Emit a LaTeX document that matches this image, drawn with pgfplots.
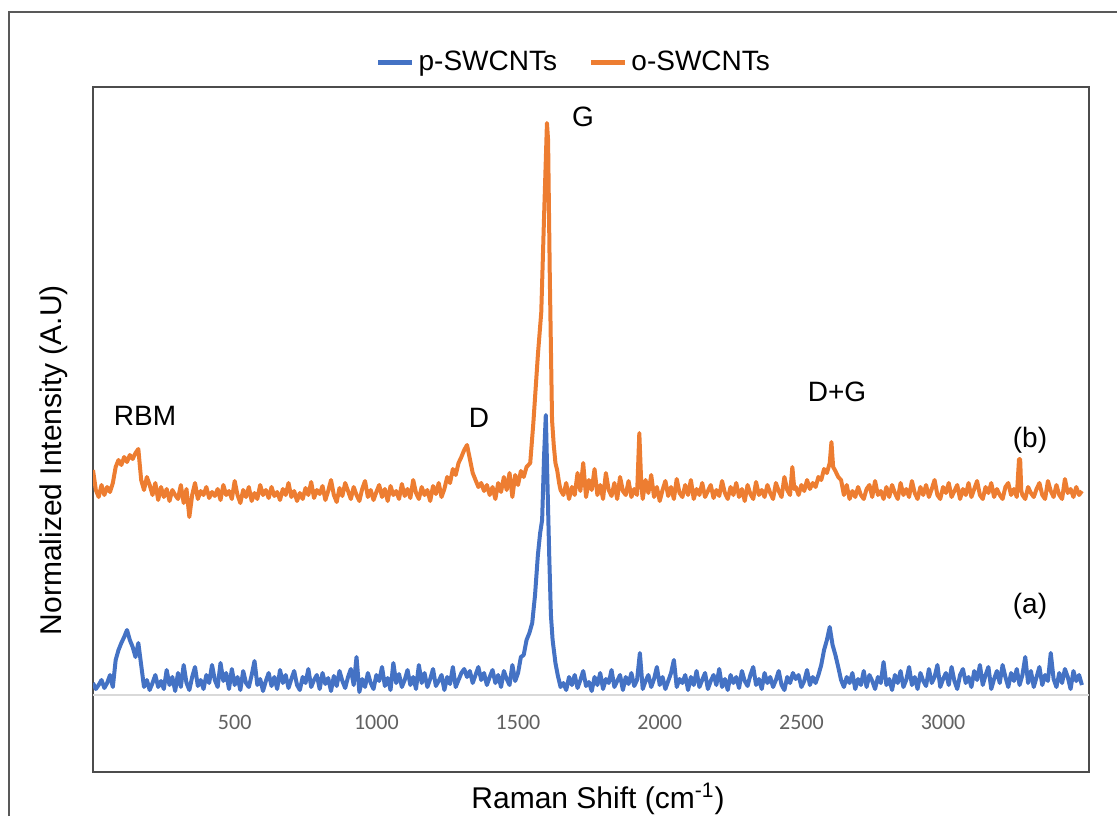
\documentclass[border=0pt]{standalone}
\usepackage{fontspec}
\setmainfont{Liberation Sans}
\newfontfamily\carlito{Carlito}
\usepackage{pgfplots}
\pgfplotsset{compat=1.18}
\definecolor{xblue}{HTML}{4472C4}
\definecolor{xorange}{HTML}{ED7D31}
\begin{document}
\begin{tikzpicture}
\path[use as bounding box] (0,0) rectangle (558.5pt,408pt);
\draw[line width=1pt, black!65] (4.5pt,0pt) -- (4.5pt,402pt) -- (558.5pt,402pt);
\begin{axis}[
  at={(46.5pt,22pt)}, anchor=south west,
  scale only axis, width=498pt, height=342.5pt,
  xmin=0, xmax=3515, ymin=-77, ymax=608,
  axis line style={line width=1pt, black!70},
  ytick=\empty,
  xtick={500,1000,...,3000},
  major tick length=0pt,
  /pgf/number format/1000 sep={},
  /pgf/number format/assume math mode=true,
  xticklabel style={anchor=center, yshift=25pt, font=\carlito\fontsize{11}{13}\selectfont, text=black!62},
  legend style={at={(0.484,1.036)}, anchor=center, draw=none, fill=none,
    legend columns=2, font=\fontsize{14}{17}\selectfont,
    /tikz/every even column/.append style={column sep=14pt}},
  legend image code/.code={\draw[#1, line width=2.2pt] (0pt,0pt) -- (17pt,0pt);},
]
\addplot[black!15, line width=0.8pt, forget plot] coordinates {(0,0) (3515,0)};
\addplot[xblue, line width=2pt, line join=round] coordinates {
(0,12)(10,6)(20,10)(30,15)(40,7)(50,12)(60,20)(70,8)(80,35)(90,45)
(100,52)(110,58)(120,65)(130,55)(140,48)(150,38)(160,52)(170,30)(180,8)(190,15)
(200,5)(210,12)(220,20)(230,8)(240,14)(250,6)(260,25)(270,10)(280,18)(290,4)
(300,22)(310,8)(320,30)(330,12)(340,5)(350,18)(360,28)(370,9)(380,15)(390,6)
(400,20)(410,12)(420,30)(430,15)(440,8)(450,32)(460,14)(470,22)(480,6)(490,26)
(500,10)(510,18)(520,5)(530,24)(540,12)(550,8)(560,20)(570,34)(580,10)(590,16)
(600,4)(610,14)(620,22)(630,9)(640,18)(650,6)(660,25)(670,12)(680,20)(690,7)
(700,16)(710,24)(720,10)(730,5)(740,18)(750,12)(760,26)(770,8)(780,15)(790,20)
(800,6)(810,22)(820,11)(830,17)(840,4)(850,19)(860,9)(870,24)(880,14)(890,7)
(900,18)(910,26)(920,10)(930,38)(940,3)(950,16)(960,8)(970,22)(980,12)(990,6)
(1000,20)(1010,14)(1020,28)(1030,9)(1040,17)(1050,5)(1060,32)(1070,12)(1080,21)(1090,8)
(1100,15)(1110,25)(1120,10)(1130,18)(1140,6)(1150,30)(1160,12)(1170,22)(1180,8)(1190,16)
(1200,26)(1210,9)(1220,14)(1230,20)(1240,5)(1250,18)(1260,11)(1270,28)(1280,8)(1290,15)
(1300,22)(1310,26)(1320,18)(1330,24)(1340,12)(1350,20)(1360,28)(1370,15)(1380,22)(1390,10)
(1400,18)(1410,25)(1420,12)(1430,20)(1440,8)(1450,24)(1460,16)(1470,10)(1480,30)(1490,14)
(1500,22)(1510,38)(1520,40)(1530,55)(1540,62)(1550,72)(1560,100)(1570,140)(1578,162)(1585,175)
(1592,240)(1598,280)(1604,210)(1610,140)(1616,80)(1622,55)(1632,32)(1640,20)(1650,8)(1660,12)
(1670,5)(1680,18)(1690,10)
(1700,20)(1710,7)(1720,15)(1730,24)(1740,9)(1750,13)(1760,4)(1770,18)(1780,10)(1790,22)
(1800,6)(1810,16)(1820,12)(1830,25)(1840,8)(1850,14)(1860,20)(1870,5)(1880,18)(1890,11)
(1900,22)(1910,9)(1920,15)(1930,42)(1940,6)(1950,14)(1960,20)(1970,8)(1980,16)(1990,28)
(2000,10)(2010,18)(2020,6)(2030,14)(2040,22)(2050,35)(2060,8)(2070,16)(2080,12)(2090,20)
(2100,5)(2110,18)(2120,10)(2130,24)(2140,8)(2150,15)(2160,22)(2170,6)(2180,14)(2190,20)
(2200,10)(2210,26)(2220,8)(2230,16)(2240,5)(2250,20)(2260,12)(2270,18)(2280,7)(2290,24)
(2300,14)(2310,9)(2320,20)(2330,28)(2340,10)(2350,16)(2360,6)(2370,22)(2380,12)(2390,18)
(2400,8)(2410,15)(2420,24)(2430,10)(2440,5)(2450,18)(2460,12)(2470,22)(2480,16)(2490,20)
(2500,8)(2510,14)(2520,25)(2530,10)(2540,18)(2550,12)(2560,20)(2570,30)(2580,45)(2590,55)
(2600,68)(2610,50)(2620,40)(2630,28)(2640,15)(2650,8)(2660,18)(2670,12)(2680,22)(2690,6)
(2700,16)(2710,10)(2720,24)(2730,8)(2740,20)(2750,14)(2760,6)(2770,18)(2780,12)(2790,33)
(2800,10)(2810,16)(2820,5)(2830,20)(2840,12)(2850,24)(2860,8)(2870,15)(2880,28)(2890,10)
(2900,18)(2910,6)(2920,22)(2930,14)(2940,9)(2950,26)(2960,12)(2970,18)(2980,30)(2990,8)
(3000,16)(3010,22)(3020,10)(3030,28)(3040,14)(3050,6)(3060,20)(3070,26)(3080,12)(3090,18)
(3100,8)(3110,24)(3120,15)(3130,30)(3140,10)(3150,20)(3160,28)(3170,6)(3180,16)(3190,24)
(3200,12)(3210,30)(3220,18)(3230,8)(3240,22)(3250,14)(3260,26)(3270,10)(3280,20)(3290,38)
(3300,12)(3310,24)(3320,8)(3330,18)(3340,28)(3350,10)(3360,20)(3370,14)(3380,42)(3390,16)
(3400,8)(3410,22)(3420,12)(3430,26)(3440,18)(3450,6)(3460,24)(3470,14)(3480,20)(3490,10)
};
\addlegendentry{p-SWCNTs}
\addplot[xorange, line width=2pt, line join=round] coordinates {
(0,225)(10,205)(20,198)(30,210)(40,200)(50,208)(60,203)(70,212)(80,228)(90,235)
(100,230)(110,238)(120,233)(130,240)(140,236)(150,242)(160,246)(170,215)(180,205)(190,218)
(200,210)(210,200)(220,212)(230,195)(240,208)(250,198)(260,206)(270,194)(280,205)(290,200)
(300,196)(310,210)(320,192)(330,206)(340,178)(350,200)(360,212)(370,196)(380,204)(390,200)
(400,208)(410,197)(420,203)(430,199)(440,206)(450,195)(460,210)(470,200)(480,204)(490,196)
(500,214)(510,200)(520,192)(530,205)(540,198)(550,208)(560,194)(570,202)(580,196)(590,210)
(600,200)(610,205)(620,197)(630,208)(640,199)(650,203)(660,195)(670,206)(680,200)(690,212)
(700,198)(710,204)(720,194)(730,202)(740,196)(750,207)(760,200)(770,213)(780,197)(790,205)
(800,201)(810,209)(820,195)(830,204)(840,215)(850,200)(860,193)(870,207)(880,199)(890,212)
(900,204)(910,196)(920,208)(930,200)(940,194)(950,206)(960,214)(970,198)(980,205)(990,195)
(1000,203)(1010,210)(1020,198)(1030,206)(1040,194)(1050,209)(1060,200)(1070,204)(1080,196)(1090,211)
(1100,199)(1110,206)(1120,197)(1130,215)(1140,202)(1150,196)(1160,208)(1170,200)(1180,205)(1190,194)
(1200,209)(1210,201)(1220,212)(1230,198)(1240,206)(1250,218)(1260,212)(1270,226)(1280,220)(1290,232)
(1300,238)(1310,245)(1320,250)(1330,236)(1340,222)(1350,215)(1360,208)(1370,212)(1380,204)(1390,210)
(1400,200)(1410,208)(1420,196)(1430,212)(1440,203)(1450,218)(1460,205)(1470,222)(1480,198)(1490,220)
(1500,210)(1510,224)(1520,218)(1530,228)(1543,232)(1554,272)(1570,340)(1582,383)(1592,480)(1602,572)
(1606,555)(1612,420)(1620,275)(1626,250)(1632,232)(1638,225)(1645,212)(1650,205)(1660,200)(1670,212)
(1680,196)(1690,208)
(1700,200)(1710,222)(1720,204)(1730,232)(1740,198)(1750,215)(1760,205)(1770,226)(1780,200)(1790,210)
(1800,196)(1810,222)(1820,205)(1830,199)(1840,212)(1850,196)(1860,218)(1870,204)(1880,200)(1890,214)
(1900,198)(1910,206)(1920,200)(1928,262)(1935,210)(1940,196)(1950,215)(1960,202)(1970,220)(1980,198)(1990,208)
(2000,194)(2010,205)(2020,214)(2030,199)(2040,208)(2050,196)(2060,216)(2070,202)(2080,198)(2090,210)
(2100,200)(2110,215)(2120,196)(2130,206)(2140,200)(2150,212)(2160,198)(2170,204)(2180,210)(2190,197)
(2200,205)(2210,199)(2220,214)(2230,202)(2240,196)(2250,208)(2260,200)(2270,212)(2280,198)(2290,206)
(2300,194)(2310,210)(2320,201)(2330,196)(2340,213)(2350,200)(2360,205)(2370,198)(2380,210)(2390,202)
(2400,196)(2410,212)(2420,204)(2430,198)(2440,218)(2450,205)(2460,200)(2468,228)(2475,206)(2480,208)(2490,200)
(2500,210)(2510,204)(2520,215)(2530,206)(2540,212)(2550,208)(2560,218)(2570,215)(2580,226)(2590,222)
(2600,232)(2606,253)(2612,228)(2620,224)(2630,218)(2640,215)(2650,200)(2660,210)(2670,196)(2680,204)(2690,198)
(2700,208)(2710,200)(2720,196)(2730,206)(2740,210)(2750,198)(2760,214)(2770,200)(2780,204)(2790,196)
(2800,208)(2810,198)(2820,210)(2830,202)(2840,196)(2850,212)(2860,200)(2870,206)(2880,198)(2890,214)
(2900,202)(2910,196)(2920,208)(2930,200)(2940,210)(2950,198)(2960,206)(2970,215)(2980,200)(2990,196)
(3000,208)(3010,202)(3020,212)(3030,198)(3040,204)(3050,210)(3060,196)(3070,206)(3080,200)(3090,212)
(3100,198)(3110,206)(3120,214)(3130,200)(3140,196)(3150,208)(3160,202)(3170,212)(3180,198)(3190,206)
(3200,200)(3210,196)(3220,208)(3230,212)(3240,200)(3250,206)(3260,198)(3268,236)(3272,236)(3276,204)(3280,200)(3290,196)
(3300,208)(3310,202)(3320,198)(3330,206)(3340,212)(3350,200)(3360,196)(3370,214)(3380,204)(3390,198)
(3400,210)(3410,200)(3420,196)(3430,216)(3440,202)(3450,206)(3460,198)(3470,208)(3480,200)(3490,204)
};
\addlegendentry{o-SWCNTs}
\end{axis}
\node[rotate=90, font=\fontsize{15}{18}\selectfont] at (27pt,178pt) {Normalized Intensity (A.U)};
\node[font=\fontsize{15}{18}\selectfont] at (299pt,8.5pt) {Raman Shift (cm\textsuperscript{-1})};
\begin{scope}[every node/.style={font=\fontsize{14}{17}\selectfont}]
\node at (72.5pt,200pt) {RBM};
\node at (239.5pt,199pt) {D};
\node at (291.5pt,349.5pt) {G};
\node at (418.5pt,212pt) {D+G};
\node at (515pt,188pt) {(b)};
\node at (515pt,105pt) {(a)};
\end{scope}
\end{tikzpicture}
\end{document}
